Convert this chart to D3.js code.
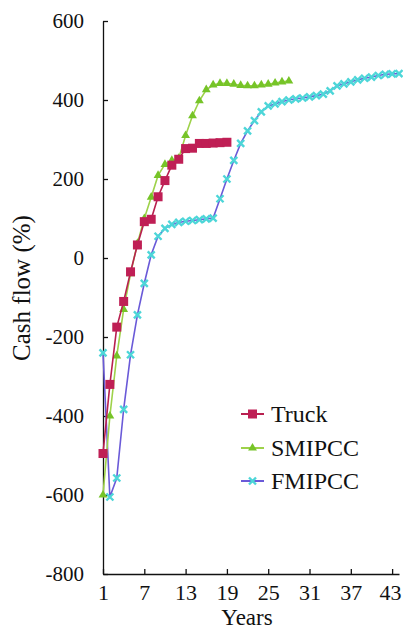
<!DOCTYPE html>
<html>
<head>
<meta charset="utf-8">
<script src="https://cdn.jsdelivr.net/npm/d3@7"></script>
<style>
  html, body { margin: 0; padding: 0; background: #fff; }
  svg { display: block; }
  text { font-family: "Liberation Serif", "Times New Roman", serif; fill: #111; }
</style>
</head>
<body>
<svg id="chart" width="403" height="630"></svg>
<script>
// Cumulative cash flow by year for three haulage options
const truckYears = d3.range(1, 20);
const truck = [-495, -320, -175, -110, -35, 33, 92, 98, 155, 196, 235, 250, 277, 278, 290, 290, 291, 292, 293];

const smipccYears = d3.range(1, 29);
const smipcc = [-600, -400, -248, -130, -40, 37, 100, 154, 209, 237, 247, 252, 310, 360, 398, 426,
                438, 442, 442, 440, 437, 436, 436, 438, 440, 443, 446, 448];

const fmipccYears = d3.range(1, 45);
const fmipcc = [-240, -605, -557, -383, -245, -144, -64, 8, 55, 75, 85, 90, 93, 95, 97, 99, 101,
                150, 200, 247, 290, 322, 348, 370, 385, 390, 396, 400, 403, 405, 408, 411, 415,
                423, 436, 441, 446, 451, 455, 458, 462, 465, 466, 467];

const xTicks = [1, 7, 13, 19, 25, 31, 37, 43];
const yTicks = [-800, -600, -400, -200, 0, 200, 400, 600];

const seriesNames = ["Truck", "SMIPCC", "FMIPCC"];

const svg = d3.select("#chart");

const x = d3.scaleLinear().domain([1, 44]).range([103, 399]);
const y = d3.scaleLinear().domain([-800, 600]).range([574, 21]);

// Axes: ticks point into the plot area; labels use a plain hyphen for negatives
const yAxis = svg.append("g")
  .attr("transform", `translate(${x(1)},0)`)
  .call(d3.axisLeft(y).tickValues(yTicks).tickSizeInner(-5).tickSizeOuter(0).tickPadding(19)
    .tickFormat(d => String(d)));
const xAxis = svg.append("g")
  .attr("transform", `translate(0,${y(-800)})`)
  .call(d3.axisBottom(x).tickValues(xTicks).tickSizeInner(-5).tickSizeOuter(0).tickPadding(10)
    .tickFormat(d => String(d)));

[xAxis, yAxis].forEach(g => {
  g.selectAll("path.domain").attr("stroke", "#111").attr("stroke-width", 1.3);
  g.selectAll(".tick line").attr("stroke", "#111").attr("stroke-width", 1.3);
  g.selectAll("text").attr("font-family", "Liberation Serif").attr("fill", "#111");
});
yAxis.selectAll("text").attr("font-size", 21);
xAxis.selectAll("text").attr("font-size", 22);
// keep the last year label inside the frame
xAxis.selectAll(".tick").filter(d => d === 43).select("text").attr("dx", -2);

svg.append("text")
  .attr("transform", "translate(30,288) rotate(-90)")
  .attr("text-anchor", "middle")
  .attr("font-size", 25)
  .text("Cash flow (%)");

svg.append("text")
  .attr("x", 247).attr("y", 625)
  .attr("text-anchor", "middle")
  .attr("font-size", 23)
  .text("Years");

// Series styles
const styles = {
  Truck:  { line: "#b8204f", mark: "#bf1f55", shape: "square" },
  SMIPCC: { line: "#9ed24a", mark: "#76c428", shape: "triangle" },
  FMIPCC: { line: "#6a5ad8", mark: "#4dd6d8", shape: "x" }
};

function drawMarker(g, shape, cx, cy, st) {
  if (shape === "square") {
    g.append("rect").attr("x", cx - 4.5).attr("y", cy - 4.5).attr("width", 9).attr("height", 9)
      .attr("fill", st.mark);
  } else if (shape === "triangle") {
    g.append("path").attr("transform", `translate(${cx},${cy})`)
      .attr("d", d3.symbol(d3.symbolTriangle, 34)()).attr("fill", st.mark);
  } else {
    g.append("path").attr("transform", `translate(${cx},${cy})`)
      .attr("d", "M-3.5,-3.5L3.5,3.5M-3.5,3.5L3.5,-3.5")
      .attr("stroke", st.mark).attr("stroke-width", 2.4).attr("fill", "none");
  }
}

const line = d3.line().x(d => x(d[0])).y(d => y(d[1]));

function drawSeries(name, years, values) {
  const st = styles[name];
  const pts = years.map((yr, i) => [yr, values[i]]);
  const g = svg.append("g");
  g.append("path").datum(pts).attr("d", line)
    .attr("fill", "none").attr("stroke", st.line).attr("stroke-width", 1.6);
  pts.forEach(p => drawMarker(g, st.shape, x(p[0]), y(p[1]), st));
}

drawSeries("FMIPCC", fmipccYears, fmipcc);
drawSeries("SMIPCC", smipccYears, smipcc);
drawSeries("Truck", truckYears, truck);

// Legend
const legendY = [414, 448, 481];
seriesNames.forEach((name, i) => {
  const st = styles[name];
  const g = svg.append("g");
  g.append("line").attr("x1", 241).attr("x2", 264).attr("y1", legendY[i]).attr("y2", legendY[i])
    .attr("stroke", st.line).attr("stroke-width", 2);
  drawMarker(g, st.shape, 252.5, legendY[i], st);
  g.append("text").attr("x", 271).attr("y", legendY[i]).attr("dy", "0.35em")
    .attr("font-size", 24).text(name);
});
</script>
</body>
</html>
